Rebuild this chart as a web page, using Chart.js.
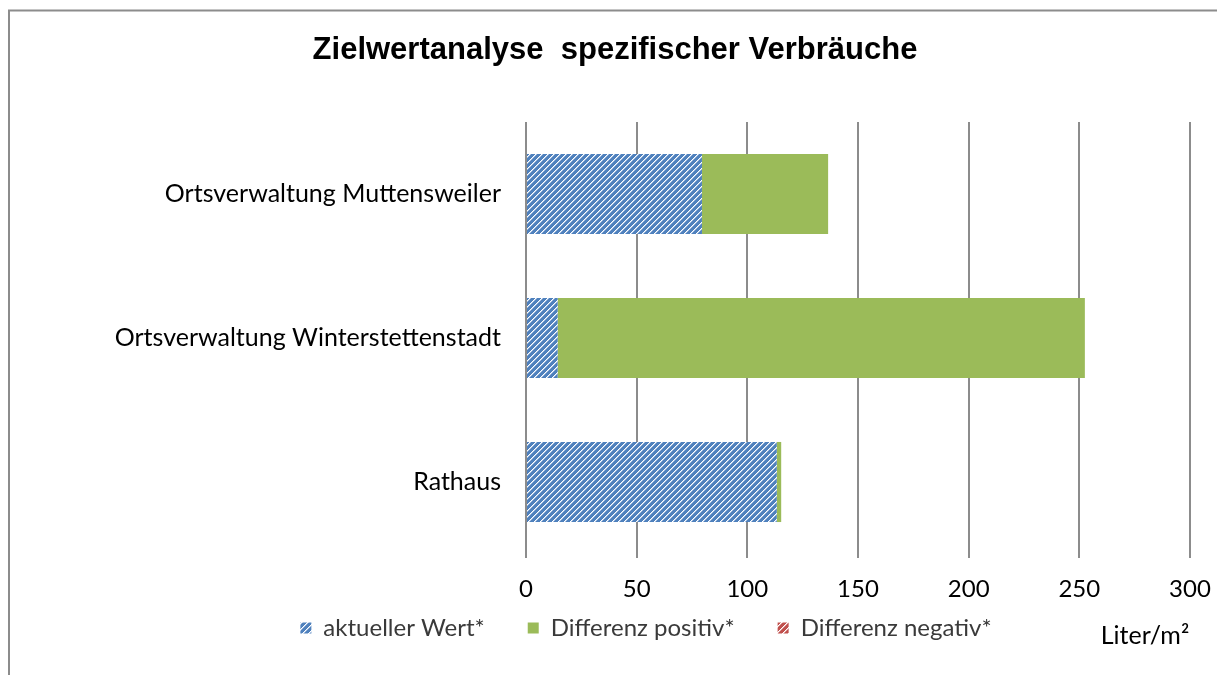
<!DOCTYPE html>
<html>
<head>
<meta charset="utf-8">
<script src="https://cdn.jsdelivr.net/npm/chart.js@4"></script>
<style>
html,body{margin:0;padding:0;background:#fff;overflow:hidden}
#wrap{width:1217px;height:675px;position:relative}
</style>
</head>
<body>
<div id="wrap"><canvas id="c" width="1217" height="675"></canvas></div>
<script>
// ---- data ----
const categories = ['Ortsverwaltung Muttensweiler', 'Ortsverwaltung Winterstettenstadt', 'Rathaus'];
const seriesNames = ['aktueller Wert*', 'Differenz positiv*', 'Differenz negativ*'];
const aktuellerWert = [79.5, 14.3, 113.3];
const differenzPositiv = [57.0, 238.2, 2.0];
const differenzNegativ = [0, 0, 0];
const xTickValues = [0, 50, 100, 150, 200, 250, 300];
const chartTitle = 'Zielwertanalyse  spezifischer Verbräuche';
const axisUnit = 'Liter/m²';

function hatch(bg, fg, mid) {
  const c = document.createElement('canvas');
  c.width = 6; c.height = 6;
  const g = c.getContext('2d');
  g.fillStyle = bg; g.fillRect(0, 0, 6, 6);
  for (let i = 0; i < 6; i++) {
    g.fillStyle = mid; g.fillRect((i + 1) % 6, 5 - i, 1, 1);
    g.fillStyle = fg; g.fillRect(i, 5 - i, 1, 1);
  }
  return g.createPattern(c, 'repeat');
}

const decor = {
  id: 'decor',
  beforeDraw(chart) {
    const g = chart.ctx;
    g.save();
    g.strokeStyle = '#8c8c8c';
    g.lineWidth = 2;
    g.beginPath();
    g.moveTo(9, 676); g.lineTo(9, 10.5); g.lineTo(1218, 10.5);
    g.stroke();
    g.restore();
  },
  afterDraw(chart) {
    const g = chart.ctx;
    g.save();
    g.fillStyle = '#000';
    g.textAlign = 'center';
    g.textBaseline = 'middle';
    g.font = 'bold 31px "Liberation Sans", Arial, sans-serif';
    g.fillText(chartTitle, 615, 50);
    g.font = '25px Lato, sans-serif';
    g.fillText(axisUnit, 1145, 636);
    g.restore();
  }
};

function draw() {
  const ctx = document.getElementById('c').getContext('2d');
  const blueHatch = hatch('#4F81BD', '#ffffff', '#a9c1e2');
  const redHatch = hatch('#C0504D', '#ffffff', '#e2aaa8');
  new Chart(ctx, {
    type: 'bar',
    data: {
      labels: categories,
      datasets: [
        { label: seriesNames[0], data: aktuellerWert, backgroundColor: blueHatch, borderWidth: 0 },
        { label: seriesNames[1], data: differenzPositiv, backgroundColor: '#9BBB59', borderWidth: 0 },
        { label: seriesNames[2], data: differenzNegativ, backgroundColor: redHatch, borderWidth: 0 }
      ]
    },
    options: {
      indexAxis: 'y',
      responsive: false,
      animation: false,
      devicePixelRatio: 1,
      datasets: { bar: { barPercentage: 0.556, categoryPercentage: 1 } },
      layout: { padding: { left: 102, right: 27, top: 122, bottom: 25 } },
      plugins: {
        title: { display: false },
        tooltip: { enabled: false },
        legend: {
          position: 'bottom',
          labels: {
            boxWidth: 11, boxHeight: 11, padding: 7,
            color: '#3a3a3a',
            font: { family: 'Lato', size: 24 },
            generateLabels: chart => Chart.defaults.plugins.legend.labels.generateLabels(chart)
              .map((it, i, arr) => Object.assign(it, { text: it.text + (i < arr.length - 1 ? '\u2002\u2002\u2002' : '') }))
          }
        }
      },
      scales: {
        x: {
          stacked: true, min: 0, max: 300,
          afterBuildTicks: s => { s.ticks = xTickValues.map(v => ({ value: v })); },
          grid: { color: '#8c8c8c', lineWidth: 2, tickLength: 4, drawTicks: true },
          border: { display: false },
          ticks: { padding: 17, color: '#000', font: { family: 'Lato', size: 24 } },
          afterFit: s => { s.height = 55; s.paddingLeft = 0; s.paddingRight = 0; }
        },
        y: {
          stacked: true,
          grid: { display: false },
          border: { display: false },
          ticks: { padding: 17, color: '#000', font: { family: 'Lato', size: 25 } },
          afterFit: s => { s.width = 424; }
        }
      }
    },
    plugins: [decor]
  });
}

const fl = document.fonts ? Promise.all([
  document.fonts.load('25px Lato'),
  document.fonts.load('bold 31px "Liberation Sans"')
]).catch(() => {}) : Promise.resolve();
Promise.race([fl, new Promise(r => setTimeout(r, 500))]).then(draw);
</script>
</body>
</html>
